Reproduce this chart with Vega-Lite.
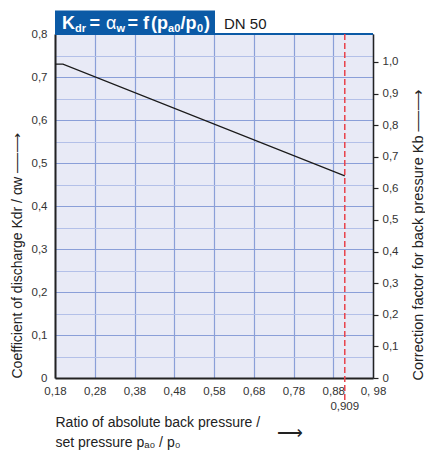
{
"$schema": "https://vega.github.io/schema/vega-lite/v6.json",
"width": 318, "height": 344,
"autosize": {"type": "none"},
"padding": {"left": 55, "top": 34, "right": 52, "bottom": 72},
"background": "white",
"config": {"font": "Liberation Sans", "view": {"fill": "#e8eaf6", "stroke": null}},
"data": {"values": [{"ratio": 0.18, "kdr": 0.73}, {"ratio": 0.2, "kdr": 0.73}, {"ratio": 0.909, "kdr": 0.47}]},
"layer": [
{"layer": [
 {"mark": {"type": "line", "color": "#1a1a1a", "strokeWidth": 1.2},
  "encoding": {
   "x": {"field": "ratio", "type": "quantitative", "scale": {"domain": [0.18, 0.98], "nice": false, "zero": false},
    "axis": {"values": [0.18,0.28,0.38,0.48,0.58,0.68,0.78,0.88,0.98], "tickCount": 30,
     "labelExpr": "datum.value > 0.97 ? '0, 98' : replace(format(datum.value, '.2f'), '.', ',')",
     "labelFlush": false, "labelOverlap": false, "ticks": false, "tickSize": 0, "labelPadding": 7,
     "labelFontSize": 11.5, "labelColor": "#333", "domainColor": "#222", "domainWidth": 2,
     "grid": true, "gridColor": "#8a9fd8", "gridWidth": 1.2,
     "title": ["Ratio of absolute back pressure /", "set pressure pₐ₀ / p₀"],
     "titleFontSize": 14, "titleFontWeight": "normal", "titleColor": "#222",
     "titleAlign": "left", "titleAnchor": "start", "titleX": 0, "titleY": 48.5, "titleBaseline": "alphabetic", "titleLineHeight": 20}},
   "y": {"field": "kdr", "type": "quantitative", "scale": {"domain": [0, 0.8], "nice": false, "zero": false},
    "axis": {"orient": "left", "values": [0,0.05,0.1,0.15,0.2,0.25,0.3,0.35,0.4,0.45,0.5,0.55,0.6,0.65,0.7,0.75,0.8], "tickCount": 40,
     "labelExpr": "round(datum.value*20) % 2 == 1 ? '' : (datum.value == 0 ? '0' : replace(format(datum.value, '.1f'), '.', ','))",
     "labelFlush": false, "labelOverlap": false, "ticks": false, "tickSize": 0, "labelPadding": 8,
     "labelFontSize": 11.5, "labelColor": "#333", "domainColor": "#222", "domainWidth": 2,
     "grid": true, "gridWidth": 1.2,
     "gridColor": {"condition": {"test": "round(datum.value*20) % 2 == 1", "value": "#b3c0e8"}, "value": "#8a9fd8"},
     "title": "Coefficient of discharge Kdr / αw  ──⟶",
     "titleFontSize": 14, "titleFontWeight": "normal", "titleColor": "#222",
     "titleAngle": 270, "titleAlign": "left", "titleBaseline": "middle", "titleX": -38, "titleY": 344}}
  }},
 {"data": {"values": [{}]}, "mark": {"type": "rule", "color": "#0b5aa6", "strokeWidth": 2},
  "encoding": {"x": {"datum": 0.18}, "x2": {"datum": 0.98}, "y": {"datum": 0.8}}},
 {"data": {"values": [{}]}, "mark": {"type": "rule", "color": "#e8424a", "strokeWidth": 1.5, "strokeDash": [6, 3]},
  "encoding": {"x": {"datum": 0.909}, "y": {"datum": 0.8}, "y2": {"datum": -0.053}}},
 {"data": {"values": [{}]}, "mark": {"type": "text", "text": "0,909", "fontSize": 11.5, "color": "#333", "align": "center", "baseline": "middle"},
  "encoding": {"x": {"datum": 0.909}, "y": {"datum": -0.0686}}},
 {"data": {"values": [{}]}, "mark": {"type": "text", "text": "⟶", "fontSize": 18, "color": "#222", "align": "left", "baseline": "middle"},
  "encoding": {"x": {"datum": 0.7385}, "y": {"datum": -0.13}}},
 {"data": {"values": [{}]}, "mark": {"type": "rect", "color": "#0b5aa6"},
  "encoding": {"x": {"datum": 0.18}, "x2": {"datum": 0.5825}, "y": {"datum": 0.8}, "y2": {"datum": 0.8547}}},
 {"data": {"values": [{}]}, "mark": {"type": "text", "text": "K", "fontSize": 18, "fontWeight": "bold", "color": "white", "align": "left", "baseline": "alphabetic"},
  "encoding": {"x": {"datum": 0.19761}, "y": {"datum": 0.81279}}},
 {"data": {"values": [{}]}, "mark": {"type": "text", "text": "dr", "fontSize": 11, "fontWeight": "bold", "color": "white", "align": "left", "baseline": "alphabetic"},
  "encoding": {"x": {"datum": 0.23031}, "y": {"datum": 0.80465}}},
 {"data": {"values": [{}]}, "mark": {"type": "text", "text": "=", "fontSize": 18, "fontWeight": "bold", "color": "white", "align": "left", "baseline": "alphabetic"},
  "encoding": {"x": {"datum": 0.26679}, "y": {"datum": 0.81279}}},
 {"data": {"values": [{}]}, "mark": {"type": "text", "text": "α", "fontSize": 18, "color": "white", "align": "left", "baseline": "alphabetic"},
  "encoding": {"x": {"datum": 0.3083}, "y": {"datum": 0.81279}}},
 {"data": {"values": [{}]}, "mark": {"type": "text", "text": "w", "fontSize": 11, "fontWeight": "bold", "color": "white", "align": "left", "baseline": "alphabetic"},
  "encoding": {"x": {"datum": 0.33472}, "y": {"datum": 0.80465}}},
 {"data": {"values": [{}]}, "mark": {"type": "text", "text": "=", "fontSize": 18, "fontWeight": "bold", "color": "white", "align": "left", "baseline": "alphabetic"},
  "encoding": {"x": {"datum": 0.3622}, "y": {"datum": 0.81279}}},
 {"data": {"values": [{}]}, "mark": {"type": "text", "text": "f", "fontSize": 18, "fontWeight": "bold", "color": "white", "align": "left", "baseline": "alphabetic"},
  "encoding": {"x": {"datum": 0.4014}, "y": {"datum": 0.81279}}},
 {"data": {"values": [{}]}, "mark": {"type": "text", "text": "(p", "fontSize": 18, "fontWeight": "bold", "color": "white", "align": "left", "baseline": "alphabetic"},
  "encoding": {"x": {"datum": 0.4215}, "y": {"datum": 0.81279}}},
 {"data": {"values": [{}]}, "mark": {"type": "text", "text": "a0", "fontSize": 11, "fontWeight": "bold", "color": "white", "align": "left", "baseline": "alphabetic"},
  "encoding": {"x": {"datum": 0.4643}, "y": {"datum": 0.80465}}},
 {"data": {"values": [{}]}, "mark": {"type": "text", "text": "/p", "fontSize": 18, "fontWeight": "bold", "color": "white", "align": "left", "baseline": "alphabetic"},
  "encoding": {"x": {"datum": 0.4957}, "y": {"datum": 0.81279}}},
 {"data": {"values": [{}]}, "mark": {"type": "text", "text": "0", "fontSize": 11, "fontWeight": "bold", "color": "white", "align": "left", "baseline": "alphabetic"},
  "encoding": {"x": {"datum": 0.5372}, "y": {"datum": 0.80465}}},
 {"data": {"values": [{}]}, "mark": {"type": "text", "text": ")", "fontSize": 18, "fontWeight": "bold", "color": "white", "align": "left", "baseline": "alphabetic"},
  "encoding": {"x": {"datum": 0.5549}, "y": {"datum": 0.81279}}},
 {"data": {"values": [{}]}, "mark": {"type": "text", "text": "DN 50", "fontSize": 15, "color": "#1a1a1a", "align": "left", "baseline": "alphabetic"},
  "encoding": {"x": {"datum": 0.60516}, "y": {"datum": 0.81279}}}
]},
{"data": {"values": [{}]}, "mark": {"type": "point", "opacity": 0},
 "encoding": {"y": {"datum": 0, "type": "quantitative", "scale": {"domain": [0, 1.0886], "nice": false, "zero": false},
  "axis": {"orient": "right", "values": [0,0.1,0.2,0.3,0.4,0.5,0.6,0.7,0.8,0.9,1.0], "tickCount": 30,
   "labelExpr": "datum.value == 0 ? '0' : replace(format(datum.value, '.1f'), '.', ',')",
   "labelFlush": false, "labelOverlap": false, "ticks": true, "tickSize": 5, "tickColor": "#222", "tickWidth": 1.2,
   "labelPadding": 4, "labelFontSize": 11.5, "labelColor": "#333", "domainColor": "#222", "domainWidth": 1.5, "grid": false,
   "title": "Correction factor for back pressure Kb  ──⟶",
   "titleFontSize": 14.5, "titleFontWeight": "normal", "titleColor": "#222",
   "titleAngle": 270, "titleAlign": "left", "titleBaseline": "middle", "titleX": 45, "titleY": 346}}}}
],
"resolve": {"scale": {"y": "independent"}, "axis": {"y": "independent"}}
}
